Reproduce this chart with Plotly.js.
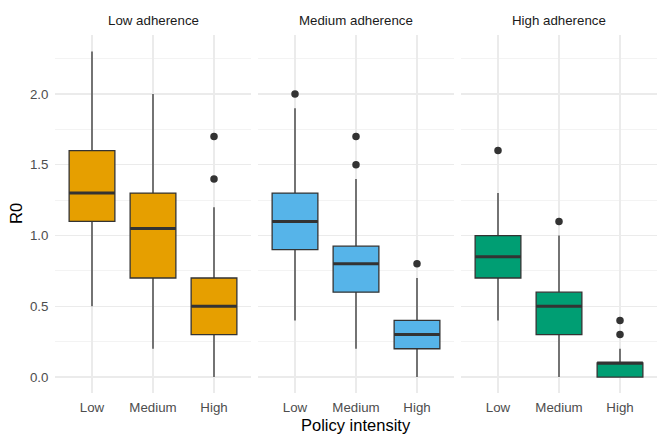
<!DOCTYPE html>
<html>
<head>
<meta charset="utf-8">
<script src="https://cdn.plot.ly/plotly-3.0.1.min.js"></script>
<style>html,body{margin:0;padding:0;background:#fff;}#chart{width:664px;height:443px;}</style>
</head>
<body>
<div id="chart"></div>
<script>
// ---- data ----
const categories = ['Low', 'Medium', 'High'];
const facets = ['Low adherence', 'Medium adherence', 'High adherence'];
const colors = ['#E69F00', '#56B4E9', '#009E73'];

const lowAdhLower = [0.5, 0.2, 0.0];
const lowAdhQ1 = [1.1, 0.7, 0.3];
const lowAdhMedian = [1.3, 1.05, 0.5];
const lowAdhQ3 = [1.6, 1.3, 0.7];
const lowAdhUpper = [2.3, 2.0, 1.2];
const lowAdhOutX = ['High', 'High'];
const lowAdhOutY = [1.4, 1.7];

const medAdhLower = [0.4, 0.2, 0.0];
const medAdhQ1 = [0.9, 0.6, 0.2];
const medAdhMedian = [1.1, 0.8, 0.3];
const medAdhQ3 = [1.3, 0.925, 0.4];
const medAdhUpper = [1.9, 1.4, 0.7];
const medAdhOutX = ['Low', 'Medium', 'Medium', 'High'];
const medAdhOutY = [2.0, 1.5, 1.7, 0.8];

const highAdhLower = [0.4, 0.0, 0.0];
const highAdhQ1 = [0.7, 0.3, 0.0];
const highAdhMedian = [0.85, 0.5, 0.1];
const highAdhQ3 = [1.0, 0.6, 0.1];
const highAdhUpper = [1.3, 1.0, 0.2];
const highAdhOutX = ['Low', 'Medium', 'High', 'High'];
const highAdhOutY = [1.6, 1.1, 0.3, 0.4];

const yTickVals = [0, 0.5, 1.0, 1.5, 2.0];
const yTickText = ['0.0', '0.5', '1.0', '1.5', '2.0'];

// ---- build ----
const panels = [
  {lower: lowAdhLower, q1: lowAdhQ1, med: lowAdhMedian, q3: lowAdhQ3, upper: lowAdhUpper, ox: lowAdhOutX, oy: lowAdhOutY},
  {lower: medAdhLower, q1: medAdhQ1, med: medAdhMedian, q3: medAdhQ3, upper: medAdhUpper, ox: medAdhOutX, oy: medAdhOutY},
  {lower: highAdhLower, q1: highAdhQ1, med: highAdhMedian, q3: highAdhQ3, upper: highAdhUpper, ox: highAdhOutX, oy: highAdhOutY}
];
const xAxisIds = ['x', 'x2', 'x3'];
const domains = [[55.4/664, 250.6/664], [258.4/664, 453.6/664], [461.4/664, 656.6/664]];
const yDomain = [1 - 393.3/443, 1 - 35.3/443];
const edge = '#333333';

const traces = [];
panels.forEach((p, i) => {
  traces.push({
    type: 'box', xaxis: xAxisIds[i], yaxis: 'y',
    x: categories, q1: p.q1, median: p.med, q3: p.q3,
    lowerfence: p.lower, upperfence: p.upper,
    width: 0.75, fillcolor: colors[i],
    line: {color: edge, width: 1.3},
    whiskerwidth: 0, boxpoints: false, showlegend: false, hoverinfo: 'skip'
  });
  // thicker median line overlay
  traces.push({
    type: 'box', xaxis: xAxisIds[i], yaxis: 'y',
    x: categories, q1: p.med, median: p.med, q3: p.med,
    lowerfence: p.med, upperfence: p.med,
    width: 0.75, fillcolor: 'rgba(0,0,0,0)',
    line: {color: edge, width: 3},
    whiskerwidth: 0, boxpoints: false, showlegend: false, hoverinfo: 'skip'
  });
  traces.push({
    type: 'scatter', mode: 'markers', xaxis: xAxisIds[i], yaxis: 'y',
    x: p.ox, y: p.oy,
    marker: {color: edge, size: 7.5},
    showlegend: false, hoverinfo: 'skip'
  });
});

const font = 'Liberation Sans, Arial, sans-serif';
const layout = {
  width: 664, height: 443,
  margin: {l: 0, r: 0, t: 0, b: 0},
  paper_bgcolor: '#fff', plot_bgcolor: '#fff',
  boxmode: 'overlay',
  font: {family: font, color: '#4D4D4D'},
  showlegend: false,
  yaxis: {
    domain: yDomain, range: [-0.115, 2.415], anchor: 'x',
    tickvals: yTickVals, ticktext: yTickText,
    showgrid: true, gridcolor: '#EBEBEB', gridwidth: 1.2,
    minor: {tickvals: [0.25, 0.75, 1.25, 1.75, 2.25], showgrid: true, gridcolor: '#F0F0F0', gridwidth: 0.8},
    zeroline: false, showline: false, ticks: '',
    ticklabelstandoff: 6,
    tickfont: {size: 13.3, color: '#4D4D4D', family: font}
  },
  annotations: []
};
xAxisIds.forEach((id, i) => {
  const key = i === 0 ? 'xaxis' : 'xaxis' + (i + 1);
  layout[key] = {
    domain: domains[i], anchor: 'y', type: 'category',
    categoryorder: 'array', categoryarray: categories,
    range: [-0.6, 2.6],
    showgrid: true, gridcolor: '#EBEBEB', gridwidth: 1.2,
    zeroline: false, showline: false, ticks: '',
    ticklabelstandoff: 4,
    tickfont: {size: 13.3, color: '#4D4D4D', family: font}
  };
  layout.annotations.push({
    text: facets[i], xref: 'paper', yref: 'paper',
    x: (domains[i][0] + domains[i][1]) / 2, y: 1 - 21/443,
    xanchor: 'center', yanchor: 'middle', showarrow: false,
    font: {size: 13.3, color: '#1A1A1A', family: font}
  });
});
layout.annotations.push({
  text: 'Policy intensity', xref: 'paper', yref: 'paper',
  x: 356/664, y: 1 - 425/443, xanchor: 'center', yanchor: 'middle', showarrow: false,
  font: {size: 16.5, color: '#000000', family: font}
});
layout.annotations.push({
  text: 'R0', xref: 'paper', yref: 'paper',
  x: 16/664, y: 1 - 214/443, xanchor: 'center', yanchor: 'middle', showarrow: false,
  textangle: -90,
  font: {size: 16.5, color: '#000000', family: font}
});

Plotly.newPlot('chart', traces, layout, {staticPlot: true, displayModeBar: false});
</script>
</body>
</html>
